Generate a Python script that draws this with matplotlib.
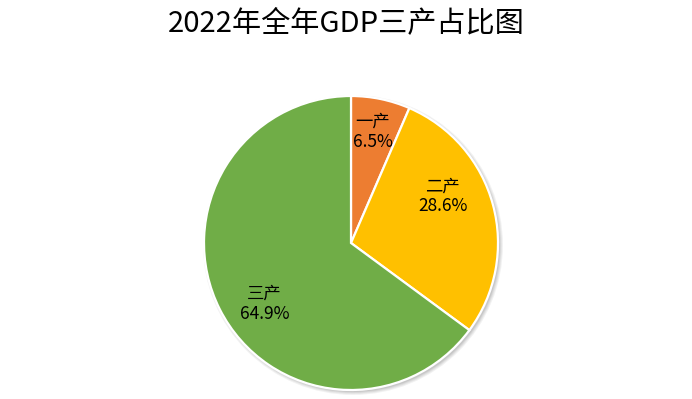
import matplotlib
matplotlib.use("Agg")
import matplotlib.pyplot as plt
import numpy as np
from matplotlib.patches import Circle

plt.rcParams['font.family'] = ['Noto Sans CJK SC', 'DejaVu Sans']

title = "2022年全年GDP三产占比图"
categories = ["一产", "二产", "三产"]
shares = [6.5, 28.6, 64.9]
colors = ["#ED7D31", "#FFC000", "#70AD47"]

W, H = 692, 399
fig = plt.figure(figsize=(W / 100, H / 100), dpi=100)
ax = fig.add_axes([0, 0, 1, 1])

cx, cy, R = 351, 156, 147

# soft shadow
for i, a in enumerate([0.05, 0.05, 0.06, 0.07]):
    ax.add_patch(Circle((cx + 2, cy - 2), R + 3 - i, color="black", alpha=a, lw=0, zorder=0))

wedges, _ = ax.pie(shares, colors=colors, startangle=90, counterclock=False,
                   center=(cx, cy), radius=R,
                   wedgeprops=dict(edgecolor="white", linewidth=1.6))
for w in wedges:
    w.set_zorder(2)

# label placement (angle in degrees, radius fraction)
label_pos = [(79, 0.77), (27, 0.70), (215, 0.72)]
for cat, val, (ang, rf) in zip(categories, shares, label_pos):
    x = cx + R * rf * np.cos(np.radians(ang))
    y = cy + R * rf * np.sin(np.radians(ang))
    ax.text(x, y, f"{cat}\n{val:.1f}%", ha="center", va="center",
            fontsize=12.5, color="black", linespacing=1.15, zorder=3)

ax.set_xlim(0, W)
ax.set_ylim(0, H)
ax.set_aspect("equal")
ax.axis("off")

fig.text(0.5, 1 - 23 / H, title, ha="center", va="center", fontsize=21, color="black")

fig.savefig("out.png", dpi=100)
